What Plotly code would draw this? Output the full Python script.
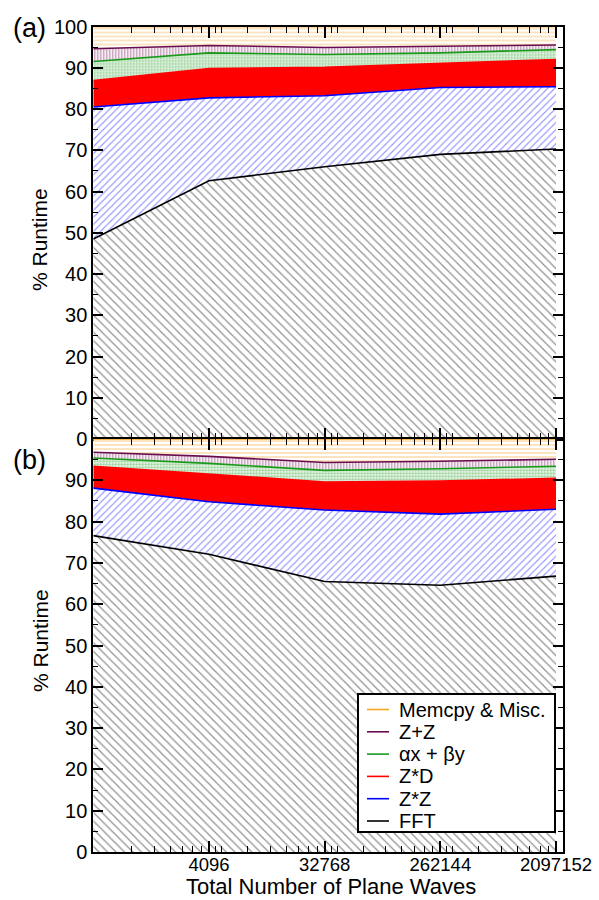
import numpy as np
import plotly.graph_objects as go

# ---------------- data ----------------
plane_waves = [512, 4096, 32768, 262144, 2097152]
tick_values = [4096, 32768, 262144, 2097152]
tick_labels = ["4096", "32768", "262144", "2097152"]
series_names = ["FFT", "Z*Z", "Z*D", "αx + βy", "Z+Z", "Memcpy & Misc."]

# panel (a): % runtime per component
a_fft = [48.5, 62.6, 66.0, 69.0, 70.3]
a_zz = [32.0, 20.1, 17.2, 16.2, 15.1]
a_zd = [6.4, 7.1, 6.9, 5.8, 6.6]
a_axpby = [4.6, 3.8, 3.1, 2.6, 2.4]
a_zpz = [3.1, 1.8, 1.7, 1.6, 1.1]
a_memcpy = [5.4, 4.6, 5.1, 4.8, 4.5]

# panel (b): % runtime per component
b_fft = [76.6, 72.1, 65.5, 64.6, 66.8]
b_zz = [11.5, 12.7, 17.3, 17.2, 16.2]
b_zd = [5.3, 6.7, 6.8, 8.0, 7.5]
b_axpby = [2.0, 2.6, 2.8, 3.0, 2.9]
b_zpz = [1.4, 1.7, 1.9, 1.8, 1.7]
b_memcpy = [3.2, 4.2, 5.7, 5.4, 4.9]

panel_a = [a_fft, a_zz, a_zd, a_axpby, a_zpz, a_memcpy]
panel_b = [b_fft, b_zz, b_zd, b_axpby, b_zpz, b_memcpy]

# ---------------- styles ----------------
line_colors = ["black", "blue", "red", "#1a9a1a", "#6a0d50", "#f5a623"]
patterns = [
    dict(shape="\\", fgcolor="#222222", bgcolor="white", size=6, solidity=0.2),
    dict(shape="/", fgcolor="#3030ff", bgcolor="white", size=5, solidity=0.22),
    None,
    dict(shape=".", fgcolor="#3aa53a", bgcolor="#eef8ee", size=3, solidity=0.45),
    dict(shape="|", fgcolor="#7a2060", bgcolor="white", size=3, solidity=0.45),
    dict(shape="-", fgcolor="#f7b24a", bgcolor="white", size=4, solidity=0.35),
]

FONT = "Liberation Sans, Arial, sans-serif"
W, H = 599, 900
x_left, x_right = 93.3, 563.0
a_top, a_bot = 26.5, 439.0
b_top, b_bot = 439.0, 852.0

fig = go.Figure()

for panel, (xa, ya, grp) in zip([panel_a, panel_b], [("x", "y", "a"), ("x2", "y2", "b")]):
    for name, vals, col, pat in zip(series_names, panel, line_colors, patterns):
        kw = dict(
            x=plane_waves, y=vals, name=name, mode="lines",
            stackgroup=grp, line=dict(color=col, width=1.6),
            xaxis=xa, yaxis=ya, showlegend=False, hoverinfo="skip",
        )
        if pat is None:
            kw["fillcolor"] = "red"
        else:
            kw["fillcolor"] = pat["bgcolor"]
            kw["fillpattern"] = pat
        fig.add_trace(go.Scatter(**kw))

# minor ticks: multiples of each power of 8
minor_x = []
for base in [512, 4096, 32768, 262144, 2097152]:
    for j in range(2, 11):
        if j != 8:
            minor_x.append(base * j)

xr = [np.log10(512), np.log10(2097152) + (x_right - 556.0) / 115.67 * np.log10(8)]

xcommon = dict(
    type="log", range=xr, domain=[x_left / W, x_right / W], automargin=False,
    showline=True, linecolor="black", linewidth=2, mirror="allticks",
    ticks="inside", ticklen=11, tickwidth=1.6, tickcolor="black",
    tickvals=tick_values, ticktext=tick_labels, showgrid=False, zeroline=False,
    minor=dict(tickvals=minor_x, ticks="inside", ticklen=6, tickwidth=1.4,
               tickcolor="black", showgrid=False),
    tickfont=dict(family=FONT, size=18.5, color="black"),
)
ycommon = dict(
    range=[0, 100], showline=True, linecolor="black", linewidth=2, mirror="allticks",
    ticks="inside", ticklen=10, tickwidth=1.6, tickcolor="black", automargin=False,
    showgrid=False, zeroline=False,
    minor=dict(tickvals=[5, 15, 25, 35, 45, 55, 65, 75, 85, 95], ticks="inside",
               ticklen=5, tickwidth=1.4, tickcolor="black", showgrid=False),
    tickfont=dict(family=FONT, size=20, color="black"),
)

fig.update_layout(
    width=W, height=H,
    margin=dict(l=0, r=0, t=0, b=0, autoexpand=False),
    paper_bgcolor="white", plot_bgcolor="white",
    xaxis=dict(**xcommon, anchor="y", showticklabels=False, matches="x2"),
    xaxis2=dict(**xcommon, anchor="y2", ticklabelstandoff=-5),
    yaxis=dict(**ycommon, domain=[1 - a_bot / H, 1 - a_top / H], anchor="x",
               tickvals=list(range(0, 101, 10))),
    yaxis2=dict(**ycommon, domain=[1 - b_bot / H, 1 - b_top / H], anchor="x2",
                tickvals=list(range(0, 91, 10))),
    showlegend=False,
    font=dict(family=FONT, color="black"),
)

# ---- legend box (drawn as a key, top entry = Memcpy) ----
lg_left, lg_top, lg_right, lg_bot = 358, 694, 555, 832
fig.add_shape(type="rect", xref="paper", yref="paper",
              x0=lg_left / W, x1=lg_right / W, y0=1 - lg_bot / H, y1=1 - lg_top / H,
              fillcolor="white", line=dict(color="black", width=2), layer="above")
row_y0, row_dy = 709.5, 22.3
for i, (name, col) in enumerate(reversed(list(zip(series_names, line_colors)))):
    yy = 1 - (row_y0 + i * row_dy) / H
    fig.add_shape(type="line", xref="paper", yref="paper",
                  x0=367 / W, x1=389 / W, y0=yy, y1=yy,
                  line=dict(color=col, width=1.6), layer="above")
    fig.add_annotation(xref="paper", yref="paper", x=397 / W, y=yy,
                       xanchor="left", yanchor="middle", showarrow=False, text=name,
                       font=dict(family=FONT, size=20, color="black"))

ann = [
    dict(text="(a)", x=29 / W, y=1 - 28 / H, yanchor="middle", font=dict(size=27)),
    dict(text="(b)", x=29 / W, y=1 - 460 / H, yanchor="middle", font=dict(size=27)),
    dict(text="% Runtime", x=40 / W, y=1 - 240 / H, yanchor="middle", textangle=-90,
         font=dict(size=21)),
    dict(text="% Runtime", x=40 / W, y=1 - 641 / H, yanchor="middle", textangle=-90,
         font=dict(size=21)),
    dict(text="Total Number of Plane Waves", x=331 / W, y=0.0, yanchor="bottom",
         font=dict(size=22)),
]
for a in ann:
    a["font"].update(family=FONT, color="black")
    fig.add_annotation(xref="paper", yref="paper", xanchor="center",
                       showarrow=False, borderpad=0, **a)

fig.write_html("out.html")
